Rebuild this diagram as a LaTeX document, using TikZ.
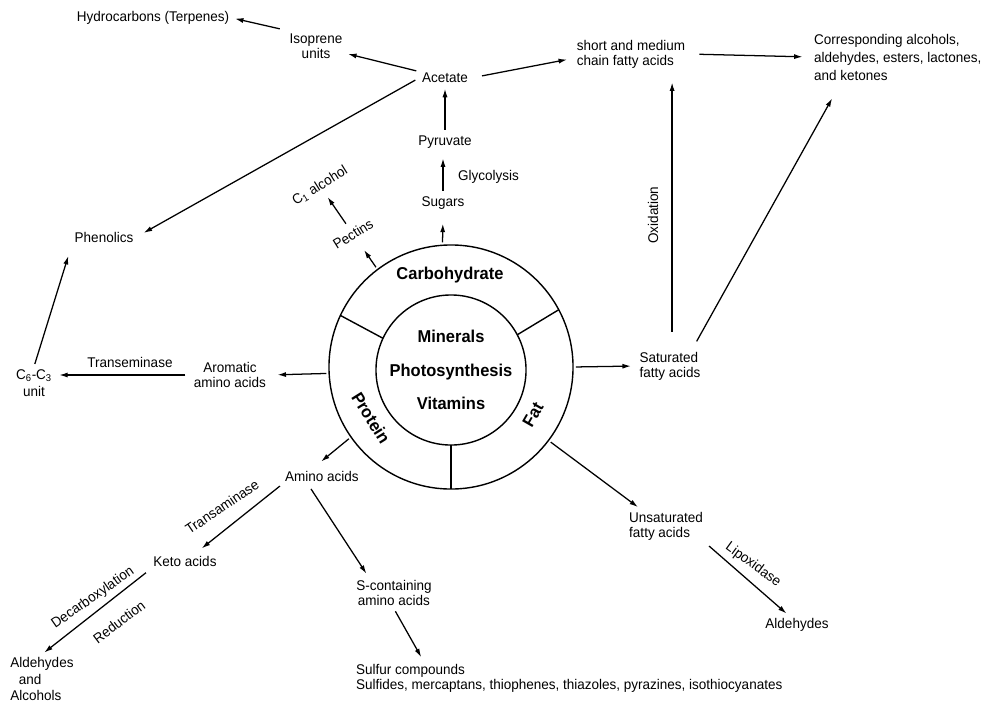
\documentclass[tikz,border=0pt]{standalone}
\usepackage{fontspec}
\setmainfont{Liberation Sans}[FakeStretch=0.96]
\usetikzlibrary{arrows.meta}

\begin{document}
\begin{tikzpicture}[
   x=0.025cm, y=-0.025cm,
   lbl/.style={inner sep=2pt, font=\fontsize{10}{10.8}\selectfont},
   big/.style={inner sep=1pt, font=\fontsize{12.2}{24}\selectfont\bfseries},
   arr/.style={-{Latex[length=6pt,width=3.6pt]}, line width=0.9pt, shorten >=2pt, shorten <=2pt},
   wheel/.style={circle, draw, line width=1pt, inner sep=0pt, outer sep=0pt}
]
\useasboundingbox (0,0) rectangle (984,704);

% central wheel
\node[wheel, minimum size=6.1cm] (ring) at (451,367) {};
\node[wheel, minimum size=3.7cm, big, align=center] (core) at (451,370)
   {Minerals\\Photosynthesis\\Vitamins};
\draw[line width=1pt] (ring.155.6) -- (core.155.6);
\draw[line width=1pt] (ring.28) -- (core.28);
\draw[line width=1pt] (ring.270) -- (core.270);
\node[big] (carbo) at (450,275) {Carbohydrate};
\node[big, rotate=-58] (protein) at (371,418) {Protein};
\node[big, rotate=60] (fat) at (533,415) {Fat};

% carbohydrate side
\node[lbl] (sugars) at (443,203) {Sugars};
\node[lbl] (pyruvate) at (445,142) {Pyruvate};
\node[lbl, anchor=west] (glyco) at (455,177) {Glycolysis};
\node[lbl] (acetate) at (445,78) {Acetate};
\node[lbl, align=center] (isoprene) at (316,46) {Isoprene\\units};
\node[lbl] (hydro) at (153,18) {Hydrocarbons (Terpenes)};
\node[lbl] (phenolics) at (104,237) {Phenolics};
\node[lbl, rotate=32] (pectins) at (353,234) {Pectins};
\node[lbl, rotate=32] (calc) at (320,186) {C\textsubscript{1} alcohol};
\node[lbl, align=left] (shortfa) at (631,54) {short and medium\\chain fatty acids};
\node[lbl, align=left, anchor=west, font=\fontsize{10}{12.8}\selectfont] (corresp) at (811,57)
   {Corresponding alcohols,\\aldehydes, esters, lactones,\\and ketones};

\draw[arr, shorten >=8pt] (ring.94) -- (sugars.south);
\draw[arr, shorten >=5pt] (sugars.north) -- (sugars.north |- pyruvate.south);
\draw[arr] (pyruvate) -- (acetate);
\draw[arr] (acetate) -- (isoprene);
\draw[arr, shorten <=5pt] (isoprene.north west) -- (hydro.east);
\draw[arr, shorten <=3pt, shorten >=6pt] (acetate.west) -- (phenolics.east);
\draw[arr, shorten <=8pt, shorten >=5pt] (acetate.east) -- ([yshift=-3pt]shortfa.west);
\draw[arr, shorten <=8pt, shorten >=6pt] (shortfa.east) -- (corresp.west);
\draw[arr, shorten >=8pt] (ring.127) -- (pectins);
\draw[arr, shorten <=3pt, shorten >=3pt] (pectins) -- (calc);

% fat side
\node[lbl, align=left] (satfa) at (670,366) {Saturated\\fatty acids};
\node[lbl, rotate=90] (oxid) at (653,215) {Oxidation};
\node[lbl, align=left] (unsatfa) at (666,526) {Unsaturated\\fatty acids};
\node[lbl, rotate=-36] (lipox) at (753,565) {Lipoxidase};
\node[lbl] (aldeh) at (797,625) {Aldehydes};

\draw[arr, shorten >=4pt] (ring.0) -- (satfa.west);
\draw[arr, shorten <=12pt, shorten >=8pt] ([xshift=1.5pt]satfa.north) -- ([xshift=1.5pt]satfa.north |- shortfa.south);
\draw[arr, shorten <=6pt, shorten >=2pt] ([xshift=16pt]satfa.north) -- ([xshift=16pt,yshift=-9pt]corresp.south west);
\draw[arr] (ring.-37) -- ([xshift=10pt]unsatfa.north west);
\draw[arr, shorten <=3pt] (unsatfa.south east) -- ([xshift=-6pt]aldeh.north);

% protein side
\node[lbl, align=center] (aromatic) at (230,375) {Aromatic\\amino acids};
\node[lbl, align=center] (csix) at (34,383) {C\textsubscript{6}-C\textsubscript{3}\\[1pt]unit};
\node[lbl] (transem) at (130,362) {Transeminase};
\node[lbl] (amino) at (322,476) {Amino acids};
\node[lbl, rotate=34] (transam) at (222,507) {Transaminase};
\node[lbl] (keto) at (185,561) {Keto acids};
\node[lbl, rotate=35] (decarb) at (93,598) {Decarboxylation};
\node[lbl, rotate=37] (reduc) at (119,622) {Reduction};
\node[lbl, align=left, font=\fontsize{10}{11.7}\selectfont] (aldalc) at (42,679) {Aldehydes\\\hspace{6pt}and\\Alcohols};
\node[lbl, align=center] (scont) at (394,593) {S-containing\\amino acids};
\node[lbl, align=left, anchor=west] (sulfur) at (353,678)
   {Sulfur compounds\\Sulfides, mercaptans, thiophenes, thiazoles, pyrazines, isothiocyanates};

\draw[arr, shorten >=6pt] (ring.183) -- (aromatic.east);
\draw[arr, shorten <=4pt, shorten >=3pt] (aromatic.west) -- (aromatic.west -| csix.east);
\draw[arr, shorten <=2pt, shorten >=8pt] (csix.north) -- (phenolics.south west);
\draw[arr, shorten >=7pt] (ring.215) -- ([xshift=-6pt]amino.north);
\draw[arr, shorten >=5pt] (amino.south west) -- ([xshift=8pt]keto.north);
\draw[arr, shorten <=4pt] (keto.south west) -- (aldalc.north);
\draw[arr, shorten <=4pt, shorten >=3pt] ([xshift=-10pt]amino.south) -- ([xshift=-18pt]scont.north);
\draw[arr, shorten <=2pt, shorten >=3pt] (scont.south) -- ([xshift=50pt]sulfur.north west);

\end{tikzpicture}
\end{document}
